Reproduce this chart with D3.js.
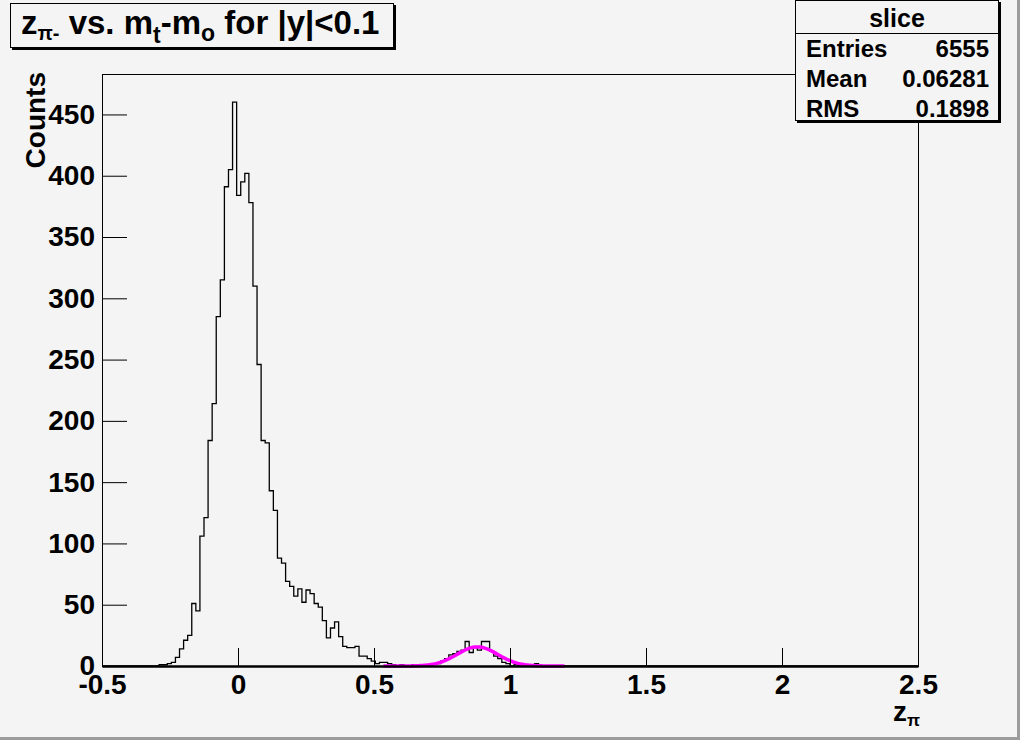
<!DOCTYPE html>
<html>
<head>
<meta charset="utf-8">
<script src="https://cdn.jsdelivr.net/npm/d3@7"></script>
<style>
body { margin:0; background:#f4f4f4; }
svg text { font-family:"Liberation Sans", Arial, sans-serif; font-weight:bold; fill:#000; }
</style>
</head>
<body>
<div id="chart"></div>
<script>
// histogram: 200 bins over [-0.5, 2.5], only bins firstBin.. are non empty
var nBins = 200, xMin = -0.5, xMax = 2.5;
var firstBin = 14;
var counts = [1,1,2,3,7,14,21,25,51,45,106,121,184,214,285,315,391,405,460,384,
  395,402,378,310,246,184,182,143,127,88,84,69,65,57,63,52,62,59,51,48,
  37,23,31,36,24,16,15,15,16,8,8,6,4,2,3,3,2,1,0,1,
  0,0,1,0,1,1,1,2,2,4,6,9,10,12,13,20,11,15,13,20,
  20,12,8,6,3,2,0,1,0,0,1,1,2,0];
// gaussian fit: constant, mean, sigma, drawn range
var fitPar = [15.6, 0.88, 0.075];
var fitRange = [0.535, 1.2];
var xMajor = [-0.5, 0, 0.5, 1, 1.5, 2, 2.5];
var yMajor = [0, 50, 100, 150, 200, 250, 300, 350, 400, 450];
var yMax = 483;
var stats = [["Entries", "6555"], ["Mean", "0.06281"], ["RMS", "0.1898"]];

var W = 1020, H = 740;
var svg = d3.select("#chart").append("svg").attr("width", W).attr("height", H);
svg.append("rect").attr("width", W).attr("height", H).attr("fill", "#f4f4f4");
// canvas bevel
svg.append("path").attr("d", "M1018.5,0V738.5H0").attr("fill", "none").attr("stroke", "#9c9c9c").attr("stroke-width", 3);

var x = d3.scaleLinear().domain([xMin, xMax]).range([102, 918]);
var y = d3.scaleLinear().domain([0, yMax]).range([666, 74]);

// frame
svg.append("rect").attr("x", 102.5).attr("y", 74.5).attr("width", 816).attr("height", 592)
  .attr("fill", "none").attr("stroke", "#000");

// histogram outline
var bw = (xMax - xMin) / nBins;
var pts = [];
for (var k = 0; k < nBins; k++) {
  var c = (k >= firstBin && k < firstBin + counts.length) ? counts[k - firstBin] : 0;
  pts.push([xMin + k * bw, c]);
}
pts.push([xMax, 0]);
var step = d3.line().x(function(d){return x(d[0]);}).y(function(d){return y(d[1]);}).curve(d3.curveStepAfter);
svg.append("path").attr("d", step(pts)).attr("fill", "none").attr("stroke", "#000").attr("stroke-width", 1.3);

// fit curve
var fx = d3.range(fitRange[0], fitRange[1] + 1e-9, 0.005);
var gaus = function(v){ var t = (v - fitPar[1]) / fitPar[2]; return fitPar[0] * Math.exp(-0.5 * t * t); };
svg.append("path")
  .attr("d", d3.line().x(function(v){return x(v);}).y(function(v){return y(gaus(v));})(fx))
  .attr("fill", "none").attr("stroke", "#ff00ff").attr("stroke-width", 3.5);

// x axis
var gx = svg.append("g").attr("transform", "translate(0,666)");
gx.call(d3.axisBottom(x).tickValues(d3.range(-0.4, 2.45, 0.1)).tickSizeInner(-9).tickSizeOuter(0).tickFormat(""));
gx.call(d3.axisBottom(x).tickValues(xMajor).tickSizeInner(-18).tickSizeOuter(0).tickPadding(25)
  .tickFormat(function(d){ return String(d); }));
gx.selectAll("path.domain").attr("stroke-width", 2.5);
gx.selectAll("line").attr("stroke", "#000");
gx.selectAll("text").attr("font-size", 28).attr("font-family", null).attr("dy", "0.1em");

// y axis
var gy = svg.append("g").attr("transform", "translate(102,0)");
gy.call(d3.axisLeft(y).tickValues(d3.range(10, yMax, 10)).tickSizeInner(-13).tickSizeOuter(0).tickFormat(""));
gy.call(d3.axisLeft(y).tickValues(yMajor).tickSizeInner(-25).tickSizeOuter(0).tickPadding(7).tickFormat(d3.format("d")));
gy.selectAll("line").attr("stroke", "#000");
gy.selectAll("text").attr("font-size", 28).attr("font-family", null);

// axis titles
svg.append("text").attr("transform", "translate(45,72) rotate(-90)").attr("text-anchor", "end")
  .attr("font-size", 28).text("Counts");
var xt = svg.append("text").attr("x", 920).attr("y", 721).attr("text-anchor", "end").attr("font-size", 28);
xt.append("tspan").text("z");
xt.append("tspan").attr("font-size", 17).attr("dy", 5).text("π");

// title box
svg.append("rect").attr("x", 12).attr("y", 5).attr("width", 384).attr("height", 45).attr("fill", "#000");
svg.append("rect").attr("x", 10.5).attr("y", 3.5).attr("width", 383).attr("height", 44)
  .attr("fill", "#f4f4f4").attr("stroke", "#000");
var tt = svg.append("text").attr("x", 21).attr("y", 34).attr("font-size", 33);
tt.append("tspan").text("z");
tt.append("tspan").attr("font-size", 20).attr("dy", 6).text("π-");
tt.append("tspan").attr("dy", -6).text(" vs. m");
tt.append("tspan").attr("font-size", 23).attr("dy", 9).text("t");
tt.append("tspan").attr("dy", -9).text("-m");
tt.append("tspan").attr("font-size", 23).attr("dy", 7).text("o");
tt.append("tspan").attr("dy", -7).text(" for |y|<0.1");

// stats box
var sx = 795, sw = 204, sh = 121;
svg.append("rect").attr("x", sx + 2).attr("y", 2).attr("width", sw).attr("height", sh).attr("fill", "#000");
svg.append("rect").attr("x", sx + 0.5).attr("y", 0.5).attr("width", sw - 1).attr("height", sh - 1)
  .attr("fill", "#f4f4f4").attr("stroke", "#000");
svg.append("line").attr("x1", sx).attr("x2", sx + sw).attr("y1", 33.5).attr("y2", 33.5).attr("stroke", "#000");
svg.append("text").attr("x", sx + sw / 2).attr("y", 27).attr("text-anchor", "middle").attr("font-size", 25).text("slice");
stats.forEach(function(s, i) {
  svg.append("text").attr("x", 806).attr("y", 57 + i * 30).attr("font-size", 24).text(s[0]);
  svg.append("text").attr("x", 989).attr("y", 57 + i * 30).attr("text-anchor", "end").attr("font-size", 24).text(s[1]);
});
</script>
</body>
</html>
